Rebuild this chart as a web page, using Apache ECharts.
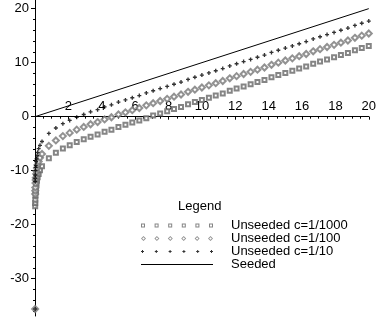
<!DOCTYPE html>
<html>
<head>
<meta charset="utf-8">
<script src="https://cdn.jsdelivr.net/npm/echarts@6/dist/echarts.min.js"></script>
<style>
  html, body { margin: 0; padding: 0; background: #fff; }
  #chart { width: 379px; height: 322px; }
</style>
</head>
<body>
<div id="chart"></div>
<script>
// regular sample points along x
const xGrid = [0.42, 0.83, 1.25, 1.67, 2.08, 2.50, 2.92, 3.33, 3.75, 4.17, 4.58, 5.00,
  5.42, 5.83, 6.25, 6.67, 7.08, 7.50, 7.92, 8.33, 8.75, 9.17, 9.58, 10.00,
  10.42, 10.83, 11.25, 11.67, 12.08, 12.50, 12.92, 13.33, 13.75, 14.17, 14.58, 15.00,
  15.42, 15.83, 16.25, 16.67, 17.08, 17.50, 17.92, 18.33, 18.75, 19.17, 19.58, 20.00]

const unseeded1000 = [-9.2, -7.7, -6.7, -5.9, -5.3, -4.7, -4.2, -3.7, -3.3, -2.8, -2.4, -1.9,
  -1.5, -1.1, -0.7, -0.3, 0.2, 0.6, 1.0, 1.4, 1.8, 2.3, 2.7, 3.1,
  3.5, 3.9, 4.3, 4.8, 5.2, 5.6, 6.0, 6.4, 6.8, 7.3, 7.7, 8.1,
  8.5, 8.9, 9.3, 9.8, 10.2, 10.6, 11.0, 11.4, 11.8, 12.3, 12.7, 13.1]
const unseeded100 = [-6.9, -5.4, -4.4, -3.6, -3.0, -2.4, -1.9, -1.4, -1.0, -0.5, -0.1, 0.4,
  0.8, 1.2, 1.6, 2.1, 2.5, 2.9, 3.3, 3.7, 4.1, 4.6, 5.0, 5.4,
  5.8, 6.2, 6.6, 7.1, 7.5, 7.9, 8.3, 8.7, 9.1, 9.6, 10.0, 10.4,
  10.8, 11.2, 11.6, 12.1, 12.5, 12.9, 13.3, 13.7, 14.1, 14.6, 15.0, 15.4]
const unseeded10 = [-4.6, -3.1, -2.1, -1.3, -0.7, -0.1, 0.4, 0.9, 1.3, 1.8, 2.2, 2.7,
  3.1, 3.5, 3.9, 4.4, 4.8, 5.2, 5.6, 6.0, 6.4, 6.9, 7.3, 7.7,
  8.1, 8.5, 8.9, 9.4, 9.8, 10.2, 10.6, 11.0, 11.4, 11.9, 12.3, 12.7,
  13.1, 13.5, 13.9, 14.4, 14.8, 15.2, 15.6, 16.0, 16.4, 16.9, 17.3, 17.7]

// extra points crowded next to x = 0
const xNear = [0.011, 0.015, 0.02, 0.03, 0.04, 0.05, 0.07, 0.09, 0.12, 0.16, 0.22, 0.3]
const near1000 = [-16.6, -16.0, -15.4, -14.6, -14.0, -13.6, -12.9, -12.4, -11.8, -11.2, -10.6, -9.9]
const near100 = [-14.3, -13.7, -13.1, -12.3, -11.7, -11.3, -10.6, -10.1, -9.5, -8.9, -8.3, -7.6]
const near10 = [-12.0, -11.4, -10.8, -10.0, -9.4, -9.0, -8.3, -7.8, -7.2, -6.6, -5.9, -5.3]
const xLow = [0.01]
const low100 = [-35.6]
const low10 = [-35.6]

const seededX = [0, 20]
const seededY = [0, 20]

const yTickLabels = [-30, -20, -10, 0, 10, 20]
const yMinorTicks = [-36, -34, -32, -30, -28, -26, -24, -22, -20, -18, -16, -14, -12, -10, -8, -6, -4, -2,
  0, 2, 4, 6, 8, 10, 12, 14, 16, 18, 20]

const names = ['Unseeded c=1/1000', 'Unseeded c=1/100', 'Unseeded c=1/10', 'Seeded']

const zip = (xs, ys) => xs.map((x, i) => [x, ys[i]])

const font = 'Liberation Sans, Arial, sans-serif'
const plusPath = 'path://M1,0h1v3h-1z M0,1h3v1h-3z'

// y range and plot height, used to lift the x axis up to y = 0
const yMin = -36.9
const yMax = 21.6
const plotH = 316
const zeroLift = plotH * (-yMin) / (yMax - yMin)

// legend keys: rows of little markers like the plot
const rowOf = (n, step, one) => {
  let p = ''
  for (let k = 0; k < n; k++) p += one(k * step) + ' '
  return 'path://' + p
}
const squareIcon = rowOf(6, 13.6, x => `M${x},0h4v4h-4z M${x + 1},1v2h2v-2z`)
const diamondIcon = rowOf(6, 13.4, x => `M${x + 2.5},0L${x + 5},2.5L${x + 2.5},5L${x},2.5Z M${x + 2.5},1.2L${x + 1.2},2.5L${x + 2.5},3.8L${x + 3.8},2.5Z`)
const plusIcon = rowOf(6, 13.8, x => `M${x + 1},0h1v3h-1z M${x},1h3v1h-3z`)
const lineIcon = 'path://M0,0h72v1h-72z'

const chart = echarts.init(document.getElementById('chart'))

const option = {
  animation: false,
  backgroundColor: '#fff',
  grid: { left: 35, right: 4, top: 0, height: plotH },
  graphic: [
    { type: 'text', left: 178, top: 200, style: { text: 'Legend', font: '13px ' + font, fill: '#000' } }
  ],
  legend: {
    orient: 'vertical',
    left: 136,
    top: 214,
    itemGap: 0,
    itemWidth: 72,
    itemHeight: 6,
    selectedMode: false,
    itemStyle: { color: '#000', borderWidth: 0 },
    textStyle: { fontFamily: font, fontSize: 13, color: '#000', lineHeight: 12, padding: [0, 0, 0, 13] },
    data: [
      { name: names[0], icon: squareIcon, itemStyle: { color: '#666' } },
      { name: names[1], icon: diamondIcon, itemStyle: { color: '#777' } },
      { name: names[2], icon: plusIcon, itemStyle: { color: '#000' } },
      { name: names[3], icon: lineIcon, itemStyle: { color: '#000' } }
    ]
  },
  xAxis: {
    type: 'value',
    min: 0,
    max: 20,
    interval: 2,
    offset: -zeroLift,
    splitLine: { show: false },
    axisLine: { onZero: false, lineStyle: { color: '#000', width: 1 } },
    axisTick: { length: 3, lineStyle: { color: '#000' } },
    minorTick: { show: true, splitNumber: 4, length: 2, lineStyle: { color: '#000' } },
    axisLabel: {
      inside: true,
      margin: 4,
      hideOverlap: false,
      showMinLabel: false,
      color: '#000',
      fontSize: 13,
      fontFamily: font
    }
  },
  yAxis: [
    {
      type: 'value',
      min: yMin,
      max: yMax,
      splitLine: { show: false },
      axisLine: { show: true, onZero: false, lineStyle: { color: '#000', width: 1 } },
      axisTick: { show: true, length: 4, customValues: yTickLabels, lineStyle: { color: '#000' } },
      axisLabel: { margin: 6, customValues: yTickLabels, color: '#000', fontSize: 13, fontFamily: font }
    },
    {
      type: 'value',
      min: yMin,
      max: yMax,
      position: 'left',
      splitLine: { show: false },
      axisLine: { show: false, onZero: false },
      axisTick: { show: true, length: 2, customValues: yMinorTicks, lineStyle: { color: '#000' } },
      axisLabel: { show: false }
    }
  ],
  series: [
    {
      name: names[0],
      type: 'scatter',
      symbol: 'emptyRect',
      symbolSize: 4,
      itemStyle: { color: '#666', borderWidth: 1 },
      data: zip(xNear, near1000).concat(zip(xGrid, unseeded1000))
    },
    {
      name: names[1],
      type: 'scatter',
      symbol: 'emptyDiamond',
      symbolSize: 6,
      itemStyle: { color: '#777', borderWidth: 1 },
      data: zip(xLow, low100).concat(zip(xNear, near100), zip(xGrid, unseeded100))
    },
    {
      name: names[2],
      type: 'scatter',
      symbol: plusPath,
      symbolSize: 4,
      itemStyle: { color: '#000' },
      data: zip(xLow, low10).concat(zip(xNear, near10), zip(xGrid, unseeded10))
    },
    {
      name: names[3],
      type: 'line',
      symbol: 'none',
      lineStyle: { color: '#000', width: 1 },
      data: zip(seededX, seededY)
    }
  ]
}

chart.setOption(option)
</script>
</body>
</html>
